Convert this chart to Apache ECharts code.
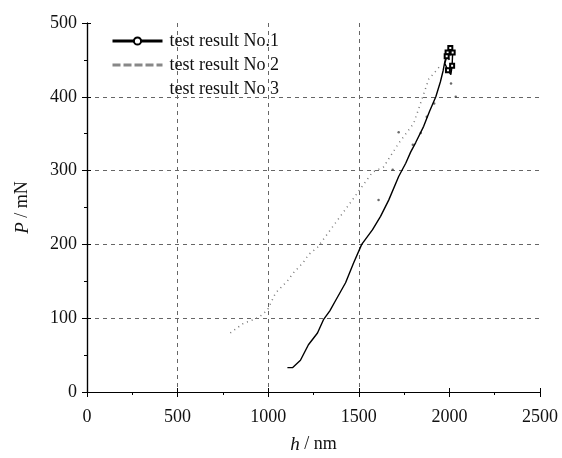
<!DOCTYPE html>
<html>
<head>
<meta charset="utf-8">
<script src="https://cdn.jsdelivr.net/npm/echarts@6/dist/echarts.min.js"></script>
<style>
  html, body { margin: 0; padding: 0; background: #fff; }
  #chart { width: 562px; height: 458px; }
</style>
</head>
<body>
<div id="chart"></div>
<script>
// 坐标刻度
const xTicks = [0, 500, 1000, 1500, 2000, 2500]
const yTicks = [0, 100, 200, 300, 400, 500]
// 只画部分网格线（参考图中 2000/2500 竖线和 500 横线没有）
const xGridShown = [false, true, true, true, false, false]
const yGridShown = [false, true, true, true, true, false]

// test result No.1 : h (nm), P (mN) — loading curve plus the small loop at peak load
const test1 = [
  [1106, 33], [1134, 33], [1178, 43], [1222, 64], [1272, 80], [1305, 98],
  [1340, 110], [1372, 124], [1427, 148], [1470, 174], [1516, 200], [1576, 220],
  [1620, 238], [1665, 260], [1720, 292], [1759, 310], [1786, 325], [1814, 338],
  [1858, 360], [1890, 380], [1925, 400], [1950, 420], [1965, 435], [1975, 448],
  [1990, 460], [2005, 466], [2018, 460], [2015, 442], [2008, 430], [1992, 436],
  [1975, 445], [1985, 455], [2000, 450]
]
// points of test 1 drawn with a square marker (peak loop)
const test1Marked = [1990, 2005, 2018, 2015, 1992, 1985]

// test result No 2
const test2 = [
  [791, 80], [863, 93], [929, 99], [957, 103], [996, 111], [1040, 134],
  [1112, 152], [1134, 160], [1195, 176], [1222, 186], [1272, 196],
  [1455, 257], [1576, 298], [1637, 305], [1720, 337], [1803, 364],
  [1886, 424], [1950, 442]
]

// test result No 3 (sparse scattered points)
const test3 = [
  [1609, 260], [1687, 301], [1720, 352], [1798, 335], [1842, 351],
  [1875, 373], [1916, 391], [2009, 418], [2035, 400]
]

const serif = '"Liberation Serif", "DejaVu Serif", serif'
const gridColor = '#666'
const none = 'rgba(0,0,0,0)'

const chart = echarts.init(document.getElementById('chart'))

const test1Data = test1.map((p, i) => {
  const marked = i >= 24 && test1Marked.includes(p[0])
  return marked
    ? { value: p, symbol: 'emptySquare', symbolSize: 4 }
    : { value: p, symbolSize: 0 }
})

const axisCommon = {
  axisLine: { show: true, lineStyle: { color: '#000', width: 1.2 } },
  splitLine: { show: false },
  minorTick: { show: true, splitNumber: 2, length: 3, lineStyle: { color: '#000' } }
}

const nameStyle = {
  fontFamily: serif, fontSize: 18, color: '#111',
  rich: { i: { fontFamily: serif, fontStyle: 'italic', fontSize: 19, color: '#111' } }
}

const option = {
  animation: false,
  grid: { left: 87, right: 22, top: 23, bottom: 66, containLabel: false, outerBoundsMode: 'none' },
  legend: {
    orient: 'vertical',
    left: 106,
    top: 27,
    itemWidth: 50,
    itemHeight: 9,
    itemGap: 6,
    textStyle: { fontFamily: serif, fontSize: 18, color: '#111', padding: [0, 0, 0, 2] },
    data: [
      { name: 'test result No.1', lineStyle: { width: 3, color: '#000' }, itemStyle: { color: '#000' } },
      { name: 'test result No 2', lineStyle: { width: 3, color: '#888', type: [8, 3] }, itemStyle: { opacity: 0 } },
      { name: 'test result No 3', lineStyle: { opacity: 0 }, itemStyle: { opacity: 0 } }
    ]
  },
  xAxis: [
    {
      ...axisCommon,
      type: 'value',
      min: 0,
      max: 2500,
      interval: 500,
      name: '{i|h} / nm',
      nameLocation: 'middle',
      nameGap: 43,
      nameTextStyle: nameStyle,
      axisTick: { show: true, length: 5, lineStyle: { color: '#000' } },
      axisLabel: { fontFamily: serif, fontSize: 18, color: '#111', margin: 16, formatter: v => String(v) },
      splitLine: {
        show: true,
        lineStyle: { color: xGridShown.map(s => (s ? gridColor : none)), type: [4, 4], width: 1 }
      }
    },
    {
      // 内侧刻度
      ...axisCommon,
      type: 'value',
      min: 0,
      max: 2500,
      interval: 500,
      position: 'bottom',
      axisTick: { show: true, inside: true, length: 4, lineStyle: { color: '#000' } },
      minorTick: { show: false },
      axisLabel: { show: false }
    }
  ],
  yAxis: [
    {
      ...axisCommon,
      type: 'value',
      min: 0,
      max: 500,
      interval: 100,
      name: '{i|P} / mN',
      nameLocation: 'middle',
      nameGap: 55,
      nameRotate: 90,
      nameTextStyle: nameStyle,
      axisTick: { show: true, length: 5, lineStyle: { color: '#000' } },
      axisLabel: { fontFamily: serif, fontSize: 18, color: '#111', margin: 10 },
      splitLine: {
        show: true,
        lineStyle: { color: yGridShown.map(s => (s ? gridColor : none)), type: [4, 4], width: 1 }
      }
    },
    {
      ...axisCommon,
      type: 'value',
      min: 0,
      max: 500,
      interval: 100,
      position: 'left',
      axisTick: { show: true, inside: true, length: 4, lineStyle: { color: '#000' } },
      minorTick: { show: false },
      axisLabel: { show: false }
    }
  ],
  series: [
    {
      name: 'test result No.1',
      type: 'line',
      data: test1Data,
      symbol: 'emptyCircle',
      symbolSize: 6,
      showSymbol: true,
      lineStyle: { color: '#000', width: 1.4 },
      itemStyle: { color: '#000' },
      z: 4
    },
    {
      name: 'test result No 2',
      type: 'line',
      data: test2,
      symbol: 'none',
      lineStyle: { color: '#777', width: 1.5, type: [1, 4] },
      itemStyle: { color: '#777' },
      z: 3
    },
    {
      name: 'test result No 3',
      type: 'scatter',
      data: test3,
      symbol: 'circle',
      symbolSize: 2.5,
      itemStyle: { color: '#444' },
      z: 3
    }
  ]
}

chart.setOption(option)
</script>
</body>
</html>
